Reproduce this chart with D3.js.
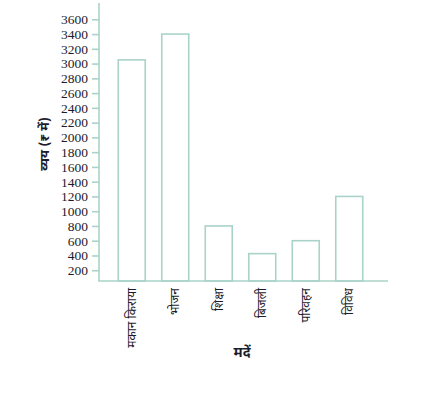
<!DOCTYPE html>
<html>
<head>
<meta charset="utf-8">
<script src="https://cdn.jsdelivr.net/npm/d3@7"></script>
<style>
	body { margin: 0; background: #fff; }
	svg { display: block; }
</style>
</head>
<body>
<div id="chart"></div>
<script>
const categories = ["मकान किराया", "भोजन", "शिक्षा", "बिजली", "परिवहन", "विविध"];
const expenses = [3050, 3400, 800, 425, 600, 1200];
const yTicks = [200, 400, 600, 800, 1000, 1200, 1400, 1600, 1800, 2000, 2200, 2400, 2600, 2800, 3000, 3200, 3400, 3600];

const W = 435, H = 393;
const AXIS = "#a9d3c9";
const TEXT = "#1c1c2c";
const LEFT = 99, RIGHT = 388, BOTTOM = 281, TOP = 3;

const svg = d3.select("#chart").append("svg")
	.attr("width", W)
	.attr("height", H);

const x = d3.scaleBand()
	.domain(categories)
	.range([110, 371])
	.paddingInner(0.38)
	.paddingOuter(0.19);

const y = d3.scaleLinear()
	.domain([0, 3600])
	.range([285, 19.3]);

// bars
svg.append("g")
	.selectAll("rect")
	.data(expenses)
	.join("rect")
	.attr("x", (d, i) => x(categories[i]))
	.attr("y", d => y(d))
	.attr("width", x.bandwidth())
	.attr("height", d => BOTTOM - y(d))
	.attr("fill", "none")
	.attr("stroke", AXIS)
	.attr("stroke-width", 1.6);

// y axis
const yAxis = svg.append("g")
	.attr("transform", `translate(${LEFT},0)`)
	.call(d3.axisLeft(y).tickValues(yTicks).tickFormat(d3.format("d")).tickSize(7).tickPadding(4));
yAxis.select(".domain").remove();
yAxis.selectAll(".tick line").attr("stroke", AXIS).attr("stroke-width", 1.6);
yAxis.selectAll(".tick text")
	.attr("fill", TEXT)
	.style("font-family", "'Liberation Serif', 'DejaVu Serif', serif")
	.style("font-size", "13.5px");

svg.append("line")
	.attr("x1", LEFT).attr("x2", LEFT)
	.attr("y1", TOP).attr("y2", BOTTOM)
	.attr("stroke", AXIS).attr("stroke-width", 1.6);

// x axis
svg.append("line")
	.attr("x1", LEFT - 0.8).attr("x2", RIGHT)
	.attr("y1", BOTTOM).attr("y2", BOTTOM)
	.attr("stroke", AXIS).attr("stroke-width", 1.6);

svg.append("g")
	.selectAll("text")
	.data(categories)
	.join("text")
	.attr("transform", d => `translate(${x(d) + x.bandwidth() / 2 + 4},288) rotate(-90)`)
	.attr("text-anchor", "end")
	.attr("fill", TEXT)
	.style("font-family", "'Noto Sans Devanagari', 'Noto Sans', sans-serif")
	.style("font-size", "12px")
	.text(d => d);

// axis titles
svg.append("text")
	.attr("transform", "translate(49,144) rotate(-90)")
	.attr("text-anchor", "middle")
	.attr("fill", TEXT)
	.style("font-family", "'Noto Sans Devanagari', 'Noto Sans', sans-serif")
	.style("font-size", "13px")
	.style("font-weight", "bold")
	.text("व्यय (₹ में)");

svg.append("text")
	.attr("x", 242)
	.attr("y", 357)
	.attr("text-anchor", "middle")
	.attr("fill", TEXT)
	.style("font-family", "'Noto Sans Devanagari', 'Noto Sans', sans-serif")
	.style("font-size", "14px")
	.style("font-weight", "bold")
	.text("मदें");
</script>
</body>
</html>
